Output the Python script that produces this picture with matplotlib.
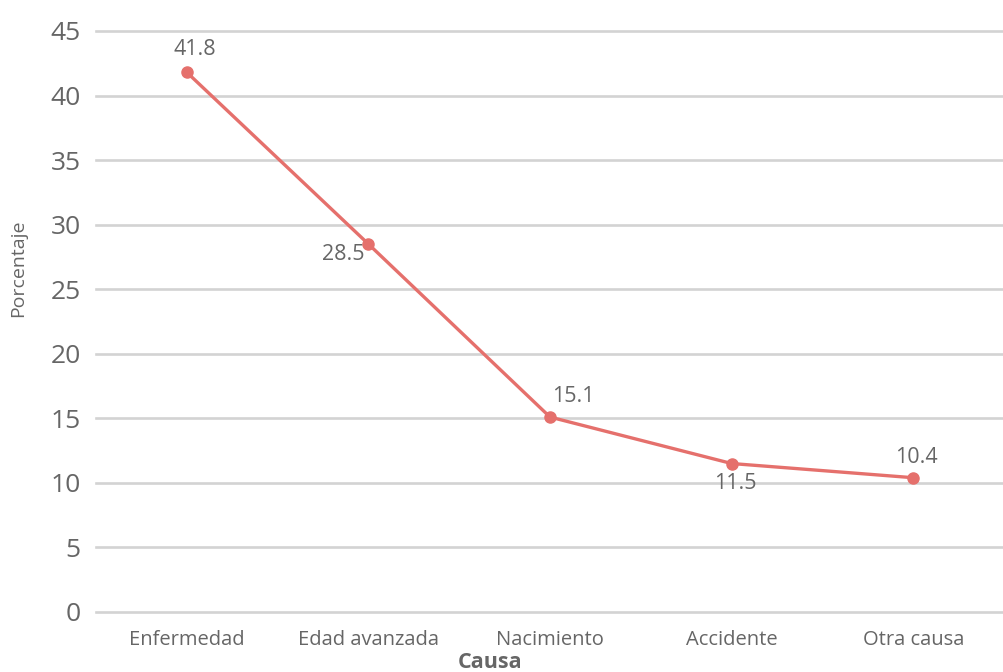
import matplotlib.pyplot as plt

# Daten
causas = ['Enfermedad', 'Edad avanzada', 'Nacimiento', 'Accidente', 'Otra causa']
porcentaje = [41.8, 28.5, 15.1, 11.5, 10.4]
yticks = list(range(0, 46, 5))

plt.rcParams['font.family'] = ['Open Sans', 'DejaVu Sans']
gris = '#666666'
rojo = '#e5706c'

fig = plt.figure(figsize=(10.04, 6.72), dpi=100)
ax = fig.add_axes([0.0956, 0.0893, 0.9044, 0.8646])

x = [i + 0.5 for i in range(len(causas))]
ax.plot(x, porcentaje, color=rojo, lw=2.4, marker='o', ms=8, clip_on=False, zorder=3)

# label offsets in px (dx, dy)
offs = [(8, 23), (-25, -10), (23, 21), (4, -20), (3, 20)]
for xi, v, (dx, dy) in zip(x, porcentaje, offs):
    ax.annotate(f'{v:.1f}', (xi, v), xytext=(dx / 1.389, dy / 1.389), textcoords='offset points',
                ha='center', va='center', fontsize=15.5, color=gris)

ax.set_xlim(0, len(causas))
ax.set_ylim(0, 45)
ax.set_yticks(yticks)
ax.set_xticks(x)
ax.set_xticklabels(causas)
# gridlines by hand so the outer ones are not clipped
for t in yticks:
    ax.axhline(t, color='#d3d3d3', lw=1.9, clip_on=False, zorder=1)
for s in ax.spines.values():
    s.set_visible(False)
ax.tick_params(axis='y', length=0, pad=11, labelsize=19, labelcolor=gris)
ax.tick_params(axis='x', length=0, pad=13, labelsize=14.5, labelcolor=gris)

fig.text(18 / 1004, 1 - 268 / 672, 'Porcentaje', rotation=90, ha='center', va='center',
         fontsize=14, color=gris)
fig.text(490 / 1004, 1 - 663 / 672, 'Causa', ha='center', va='center',
         fontsize=15.5, color=gris, fontweight='bold')

fig.savefig('out.png', dpi=100)
